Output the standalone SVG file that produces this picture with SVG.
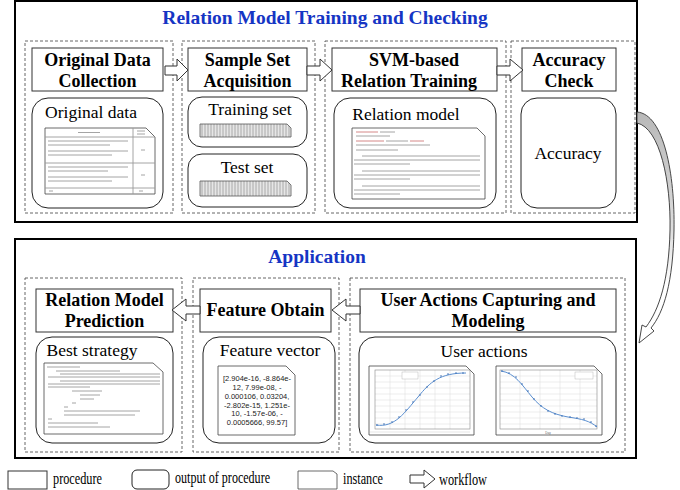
<svg xmlns="http://www.w3.org/2000/svg" width="680" height="490" viewBox="0 0 680 490">
<defs>
<style>
.outer{fill:none;stroke:#000;stroke-width:2}
.dash{fill:none;stroke:#555;stroke-width:0.9;stroke-dasharray:3,2}
.proc{fill:#fff;stroke:#333;stroke-width:1}
.out{fill:#fff;stroke:#222;stroke-width:1}
.title{font-family:"Liberation Serif",serif;font-weight:bold;font-size:19.5px;fill:#1535c4;text-anchor:middle}
.pt{font-family:"Liberation Serif",serif;font-weight:bold;font-size:18px;fill:#000;text-anchor:middle}
.ot{font-family:"Liberation Serif",serif;font-size:17.5px;fill:#000;text-anchor:middle}
.lg{font-family:"Liberation Serif",serif;font-size:16px;fill:#000}
.fv{font-family:"Liberation Sans",Arial,sans-serif;font-size:7.5px;fill:#222;text-anchor:middle}
.doc{fill:#fff;stroke:#444;stroke-width:0.8}
.tl{stroke:#9a9a9a;stroke-width:0.9}
.rl{stroke:#d07a7a;stroke-width:0.9}
.grid{stroke:#d8d8d8;stroke-width:0.5}
.blk{fill:#fff;stroke:#333;stroke-width:1}
</style>
<pattern id="stripes" width="3" height="10" patternUnits="userSpaceOnUse">
<rect width="3" height="10" fill="#e6e6e6"/>
<line x1="1" y1="0" x2="1" y2="10" stroke="#999" stroke-width="0.8"/>
</pattern>
<linearGradient id="cg" x1="0" y1="0" x2="0" y2="1">
<stop offset="0" stop-color="#b8b8b8"/>
<stop offset="0.5" stop-color="#dcdcdc"/>
<stop offset="0.75" stop-color="#fff"/>
</linearGradient>
</defs>
<rect width="680" height="490" fill="#fff"/>

<!-- Top section -->
<g id="sec-training">
<rect class="outer" x="15" y="1" width="622" height="221"/>
<text class="title" x="325" y="24">Relation Model Training and Checking</text>
</g>
<g id="stage-collection">
<rect class="dash" x="25" y="41" width="148" height="172"/>
<rect class="proc" x="32" y="48" width="131" height="43"/>
<text class="pt" x="97.5" y="66">Original Data</text>
<text class="pt" x="97.5" y="87">Collection</text>
</g>
<g id="out-original-data">
<rect class="out" x="32" y="98" width="131" height="110" rx="16"/>
<text class="ot" x="91" y="118">Original data</text>
<path class="doc" d="M45,128 H146 L155,137 V194 H45 Z"/>
<line class="tl" x1="133" y1="128" x2="133" y2="194"/>
<line class="tl" x1="45" y1="137" x2="155" y2="137"/>
<line class="tl" x1="45" y1="163" x2="155" y2="163"/>
<line class="tl" x1="45" y1="188" x2="155" y2="188"/>
<line class="tl" x1="78" y1="132.5" x2="100" y2="132.5"/>
<line class="tl" x1="137" y1="131" x2="145" y2="131"/>
<line class="tl" x1="137" y1="134" x2="145" y2="134"/>
<line class="tl" x1="48" y1="141" x2="128" y2="141"/>
<line class="tl" x1="48" y1="145" x2="110" y2="145"/>
<line class="tl" x1="48" y1="151" x2="128" y2="151"/>
<line class="tl" x1="48" y1="155" x2="112" y2="155"/>
<line class="tl" x1="48" y1="167" x2="128" y2="167"/>
<line class="tl" x1="48" y1="171" x2="108" y2="171"/>
<line class="tl" x1="48" y1="177" x2="128" y2="177"/>
<line class="tl" x1="48" y1="181" x2="112" y2="181"/>
<line class="tl" x1="141" y1="150" x2="145" y2="150"/>
<line class="tl" x1="141" y1="175" x2="145" y2="175"/>
<line class="tl" x1="49" y1="191" x2="53" y2="191"/>
<line class="tl" x1="139" y1="191" x2="143" y2="191"/>
</g>

<g id="stage-sample">
<rect class="dash" x="182" y="41" width="133" height="172"/>
<rect class="proc" x="188" y="48" width="119" height="43"/>
<text class="pt" x="247.5" y="66">Sample Set</text>
<text class="pt" x="247.5" y="87">Acquisition</text>
</g>
<g id="out-training-set">
<rect class="out" x="188" y="97" width="119" height="50" rx="14"/>
<text class="ot" x="250" y="115">Training set</text>
<path d="M200,124 H287 L291,128 V137 H200 Z" fill="url(#stripes)" stroke="#555" stroke-width="0.8"/>
</g>
<g id="out-test-set">
<rect class="out" x="188" y="154" width="119" height="53" rx="14"/>
<text class="ot" x="247" y="173">Test set</text>
<path d="M200,181 H287 L291,185 V196 H200 Z" fill="url(#stripes)" stroke="#555" stroke-width="0.8"/>
</g>

<g id="stage-svm">
<rect class="dash" x="325" y="41" width="181" height="172"/>
<rect class="proc" x="332" y="48" width="165" height="43"/>
<text class="pt" x="414" y="66">SVM-based</text>
<text class="pt" x="409" y="87">Relation Training</text>
</g>
<g id="out-relation-model">
<rect class="out" x="334" y="98" width="162" height="110" rx="16"/>
<text class="ot" x="406" y="120">Relation model</text>
<path class="doc" d="M352,128 H477 L485,136 V199 H352 Z"/>
<line class="rl" x1="356" y1="132" x2="378" y2="132"/>
<line class="tl" x1="380" y1="132" x2="395" y2="132"/>
<line class="tl" x1="356" y1="136" x2="390" y2="136"/>
<line class="rl" x1="356" y1="141" x2="384" y2="141"/>
<line class="tl" x1="386" y1="141" x2="408" y2="141"/>
<line class="rl" x1="410" y1="141" x2="424" y2="141"/>
<line class="tl" x1="356" y1="145" x2="430" y2="145"/>
<line class="tl" x1="356" y1="150" x2="398" y2="150"/>
<line class="tl" x1="362" y1="156" x2="480" y2="156"/>
<line class="tl" x1="354" y1="160" x2="480" y2="160"/>
<line class="tl" x1="354" y1="164" x2="410" y2="164"/>
<line class="tl" x1="362" y1="171" x2="480" y2="171"/>
<line class="tl" x1="354" y1="175" x2="480" y2="175"/>
<line class="tl" x1="354" y1="179" x2="410" y2="179"/>
<line class="tl" x1="362" y1="186" x2="480" y2="186"/>
<line class="tl" x1="354" y1="190" x2="480" y2="190"/>
<line class="tl" x1="354" y1="194" x2="400" y2="194"/>
</g>

<g id="stage-accuracy">
<rect class="dash" x="511" y="41" width="124" height="172"/>
<rect class="proc" x="522" y="48" width="94" height="43"/>
<text class="pt" x="569" y="66">Accuracy</text>
<text class="pt" x="569" y="87">Check</text>
</g>
<g id="out-accuracy">
<rect class="out" x="521" y="98" width="95" height="110" rx="16"/>
<text class="ot" x="568" y="159">Accuracy</text>
</g>

<!-- Bottom section -->
<g id="sec-application">
<rect class="outer" x="15" y="239" width="621" height="219"/>
<text class="title" x="317" y="263">Application</text>
</g>
<g id="stage-prediction">
<rect class="dash" x="25" y="278" width="157" height="174"/>
<rect class="proc" x="36" y="289" width="137" height="43"/>
<text class="pt" x="104.5" y="306">Relation Model</text>
<text class="pt" x="104.5" y="327">Prediction</text>
</g>
<g id="out-best-strategy">
<rect class="out" x="36" y="337" width="137" height="106" rx="16"/>
<text class="ot" x="92" y="356">Best strategy</text>
<path class="doc" d="M44,363 H153 L163,372 V434 H44 Z"/>
<line class="tl" x1="47" y1="367" x2="80" y2="367"/>
<line class="tl" x1="56" y1="371" x2="120" y2="371"/>
<line class="tl" x1="60" y1="374" x2="160" y2="374"/>
<line class="tl" x1="48" y1="377" x2="160" y2="377"/>
<line class="tl" x1="60" y1="381" x2="160" y2="381"/>
<line class="tl" x1="48" y1="384" x2="160" y2="384"/>
<line class="tl" x1="48" y1="387" x2="90" y2="387"/>
<line class="tl" x1="72" y1="391" x2="102" y2="391"/>
<line class="tl" x1="80" y1="395" x2="100" y2="395"/>
<line class="tl" x1="80" y1="399" x2="94" y2="399"/>
<line class="tl" x1="72" y1="403" x2="76" y2="403"/>
<line class="tl" x1="64" y1="407" x2="68" y2="407"/>
<line class="tl" x1="64" y1="411" x2="140" y2="411"/>
<line class="tl" x1="64" y1="415" x2="135" y2="415"/>
<line class="tl" x1="48" y1="419" x2="52" y2="419"/>
<line class="tl" x1="48" y1="423" x2="98" y2="423"/>
<line class="tl" x1="48" y1="427" x2="110" y2="427"/>
</g>

<g id="stage-feature">
<rect class="dash" x="193" y="278" width="146" height="174"/>
<rect class="proc" x="200" y="289" width="131" height="43"/>
<text class="pt" x="265.5" y="316">Feature Obtain</text>
</g>
<g id="out-feature-vector">
<rect class="out" x="203" y="337" width="132" height="106" rx="16"/>
<text class="ot" x="270" y="356">Feature vector</text>
<path class="doc" d="M218,366 H286 L295,375 V435 H218 Z"/>
<text class="fv" x="257" y="381">[2.904e-16, -8.864e-</text>
<text class="fv" x="257" y="390">12, 7.99e-08, -</text>
<text class="fv" x="257" y="399">0.000106, 0.03204,</text>
<text class="fv" x="257" y="407.5">-2.802e-15,  1.251e-</text>
<text class="fv" x="257" y="416">10,  -1.57e-06, -</text>
<text class="fv" x="257" y="425">0.0005666, 99.57]</text>
</g>

<g id="stage-capture">
<rect class="dash" x="350" y="278" width="275" height="174"/>
<rect class="proc" x="360" y="289" width="256" height="43"/>
<text class="pt" x="488" y="306">User Actions Capturing and</text>
<text class="pt" x="488" y="327">Modeling</text>
</g>
<g id="out-user-actions">
<rect class="out" x="359" y="337" width="257" height="106" rx="16"/>
<text class="ot" x="484" y="357">User actions</text>
<path class="doc" d="M369,366 H466 L474,374 V435 H369 Z"/>
<g>
<line class="grid" x1="375" y1="376" x2="470" y2="376"/><line class="grid" x1="375" y1="382" x2="470" y2="382"/>
<line class="grid" x1="375" y1="388" x2="470" y2="388"/><line class="grid" x1="375" y1="394" x2="470" y2="394"/>
<line class="grid" x1="375" y1="400" x2="470" y2="400"/><line class="grid" x1="375" y1="406" x2="470" y2="406"/>
<line class="grid" x1="375" y1="412" x2="470" y2="412"/><line class="grid" x1="375" y1="418" x2="470" y2="418"/>
<line class="grid" x1="375" y1="424" x2="470" y2="424"/>
<line class="grid" x1="390" y1="370" x2="390" y2="429"/><line class="grid" x1="405" y1="370" x2="405" y2="429"/>
<line class="grid" x1="420" y1="370" x2="420" y2="429"/><line class="grid" x1="435" y1="370" x2="435" y2="429"/>
<line class="grid" x1="450" y1="370" x2="450" y2="429"/>
<rect x="375" y="370" width="95" height="59" fill="none" stroke="#888" stroke-width="0.6"/>
<path d="M376,425 C395,428 405,412 418,397 C430,382 440,373 466,373" fill="none" stroke="#5b8fd0" stroke-width="1"/>
<g fill="#3a6fb5"><circle cx="377" cy="425" r="0.8"/><circle cx="384" cy="424" r="0.8"/><circle cx="392" cy="422" r="0.8"/><circle cx="399" cy="417" r="0.8"/><circle cx="406" cy="410" r="0.8"/><circle cx="413" cy="402" r="0.8"/><circle cx="420" cy="395" r="0.8"/><circle cx="427" cy="387" r="0.8"/><circle cx="434" cy="381" r="0.8"/><circle cx="441" cy="376" r="0.8"/><circle cx="448" cy="374" r="0.8"/><circle cx="456" cy="373" r="0.8"/><circle cx="463" cy="373" r="0.8"/></g>
<rect x="402" y="372" width="16" height="7" fill="#fff" stroke="#aaa" stroke-width="0.4"/>
<line x1="370" y1="432" x2="470" y2="432" stroke="#bbb" stroke-width="0.4"/>
</g>
<path class="doc" d="M496,366 H594 L602,374 V435 H496 Z"/>
<g>
<line class="grid" x1="500" y1="376" x2="597" y2="376"/><line class="grid" x1="500" y1="382" x2="597" y2="382"/>
<line class="grid" x1="500" y1="388" x2="597" y2="388"/><line class="grid" x1="500" y1="394" x2="597" y2="394"/>
<line class="grid" x1="500" y1="400" x2="597" y2="400"/><line class="grid" x1="500" y1="406" x2="597" y2="406"/>
<line class="grid" x1="500" y1="412" x2="597" y2="412"/><line class="grid" x1="500" y1="418" x2="597" y2="418"/>
<line class="grid" x1="500" y1="424" x2="597" y2="424"/>
<line class="grid" x1="520" y1="370" x2="520" y2="429"/><line class="grid" x1="540" y1="370" x2="540" y2="429"/>
<line class="grid" x1="560" y1="370" x2="560" y2="429"/><line class="grid" x1="580" y1="370" x2="580" y2="429"/>
<rect x="500" y="370" width="97" height="59" fill="none" stroke="#888" stroke-width="0.6"/>
<path d="M501,371 C515,373 522,385 532,397 C542,409 552,414 568,417 C582,419 590,421 597,427" fill="none" stroke="#5b8fd0" stroke-width="1"/>
<g fill="#3a6fb5"><circle cx="502" cy="371" r="0.8"/><circle cx="509" cy="373" r="0.8"/><circle cx="516" cy="377" r="0.8"/><circle cx="522" cy="384" r="0.8"/><circle cx="528" cy="391" r="0.8"/><circle cx="534" cy="399" r="0.8"/><circle cx="541" cy="406" r="0.8"/><circle cx="548" cy="411" r="0.8"/><circle cx="555" cy="414" r="0.8"/><circle cx="562" cy="416" r="0.8"/><circle cx="570" cy="417" r="0.8"/><circle cx="577" cy="418" r="0.8"/><circle cx="584" cy="419" r="0.8"/><circle cx="591" cy="422" r="0.8"/><circle cx="596" cy="426" r="0.8"/></g>
<rect x="575" y="372" width="18" height="7" fill="#fff" stroke="#aaa" stroke-width="0.4"/>
<text x="548" y="433.5" font-family="Liberation Sans,sans-serif" font-size="3" fill="#666" text-anchor="middle">Day</text>
</g>
</g>

<!-- Connectors -->
<g id="connectors">
<path class="blk" d="M165,66 H177 V59 L188,70 L177,81 V75 H165 Z"/>
<path class="blk" d="M307,66 H320 V59 L332,70 L320,81 V75 H307 Z"/>
<path class="blk" d="M497,66 H510 V59 L523,70 L510,81 V75 H497 Z"/>
<path class="blk" d="M200,306 H186 V299 L172,310 L186,321 V314 H200 Z"/>
<path class="blk" d="M360,306 H346 V299 L332,310 L346,321 V314 H360 Z"/>
<path d="M637,112 C664,114 675,175 674,230 C673,282 664,312 651,328 L654,331 L639,343 L642,325 L646,327 C659,310 669,280 670,230 C671,182 660,128 637,123 Z" fill="url(#cg)" stroke="#333" stroke-width="0.9" stroke-linejoin="round"/>
</g>

<!-- Legend -->
<g id="legend">
<rect class="proc" x="8" y="471" width="39" height="18"/>
<text class="lg" x="53" y="484" textLength="49" lengthAdjust="spacingAndGlyphs">procedure</text>
<rect class="out" x="132" y="470" width="37" height="19" rx="5"/>
<text class="lg" x="175" y="483" textLength="95" lengthAdjust="spacingAndGlyphs">output of procedure</text>
<path class="doc" d="M298,471 H333 L337,474 V489 H298 Z" stroke="#333"/>
<text class="lg" x="343" y="484" textLength="40" lengthAdjust="spacingAndGlyphs">instance</text>
<path class="blk" d="M410,475 H424 V470 L435,479 L424,488 V483 H410 Z"/>
<text class="lg" x="439" y="485" textLength="48" lengthAdjust="spacingAndGlyphs">workflow</text>
</g>
</svg>
